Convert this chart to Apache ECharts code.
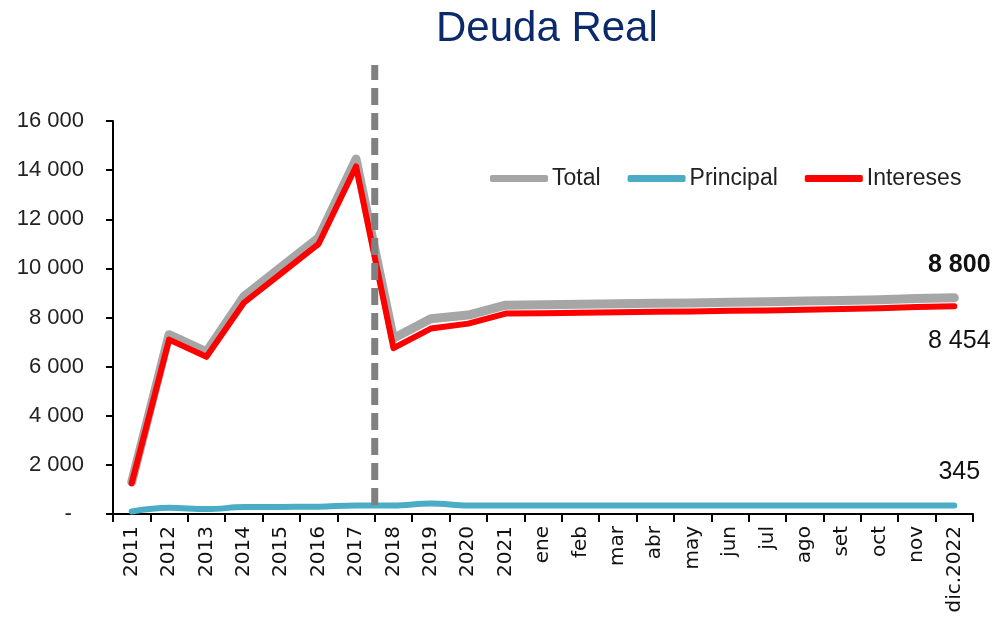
<!DOCTYPE html>
<html>
<head>
<meta charset="utf-8">
<script src="https://cdn.jsdelivr.net/npm/echarts@6/dist/echarts.min.js"></script>
<style>
  html, body { margin: 0; padding: 0; background: #fff; }
  #chart { width: 999px; height: 617px; }
</style>
</head>
<body>
<div id="chart"></div>
<script>
// categories: years then months of 2022
var categories = ['2011', '2012', '2013', '2014', '2015', '2016', '2017', '2018', '2019', '2020', '2021',
  'ene', 'feb', 'mar', 'abr', 'may', 'jun', 'jul', 'ago', 'set', 'oct', 'nov', 'dic.2022'];

var total     = [1300, 7300, 6600, 8850, 10050, 11250, 14450, 7150, 7950, 8100, 8500,
  8520, 8540, 8560, 8580, 8590, 8620, 8640, 8670, 8690, 8720, 8770, 8800];
var principal = [100, 250, 200, 280, 290, 300, 350, 350, 430, 350, 345,
  345, 345, 345, 345, 345, 345, 345, 345, 345, 345, 345, 345];
var intereses = [1250, 7100, 6400, 8600, 9800, 11000, 14150, 6750, 7550, 7750, 8160,
  8175, 8190, 8210, 8230, 8245, 8270, 8290, 8320, 8345, 8375, 8425, 8454];

// vertical break between 2017 and 2018 (boundary index on a 0..23 scale)
var breakLine = [[7, 370], [7, 18280]];

var yTicks = { min: 0, max: 16000, interval: 2000 };

var FONT = 'Liberation Sans';

function fmtThousands(v) {
  if (v === 0) return '-  ';
  return String(v).replace(/\B(?=(\d{3})+(?!\d))/g, ' ');
}

// only the last point gets a visible label
function endLabel(series, pos, bold, dist) {
  var last = series.length - 1;
  return series.map(function (v, i) {
    if (i !== last) return v;
    return {
      value: v,
      label: {
        show: true, position: pos, distance: dist, offset: [5, 0],
        fontFamily: FONT, fontSize: 25, color: '#111',
        fontWeight: bold ? 'bold' : 'normal',
        formatter: function (p) { return fmtThousands(p.value); }
      }
    };
  });
}

var chart = echarts.init(document.getElementById('chart'));

var option = {
  animation: false,
  backgroundColor: '#fff',
  title: {
    text: 'Deuda Real',
    left: 431, top: 3,
    textStyle: { fontFamily: FONT, fontSize: 42, fontWeight: 'normal', color: '#0B2A6B' }
  },
  legend: {
    left: 485, top: 162,
    icon: 'roundRect',
    itemWidth: 58, itemHeight: 7, itemGap: 27,
    data: ['Total', 'Principal', 'Intereses'],
    textStyle: { fontFamily: FONT, fontSize: 23, color: '#222', padding: [0, 0, 0, -1] }
  },
  grid: { left: 113, right: 26, top: 121, bottom: 103 },
  xAxis: [{
    type: 'category',
    data: categories,
    boundaryGap: true,
    axisLine: { lineStyle: { color: '#000', width: 2 } },
    axisTick: { show: true, length: 8, interval: 0, lineStyle: { color: '#000', width: 2 } },
    axisLabel: { interval: 0, rotate: 90, margin: 12, fontFamily: 'DejaVu Sans', fontSize: 20, color: '#111' },
    splitLine: { show: false }
  }, {
    type: 'value', min: 0, max: 23, show: false
  }],
  yAxis: {
    type: 'value',
    min: yTicks.min, max: yTicks.max, interval: yTicks.interval,
    axisLine: { show: true, lineStyle: { color: '#000', width: 2 } },
    axisTick: { show: true, length: 7, lineStyle: { color: '#000', width: 2 } },
    axisLabel: { margin: 29, fontFamily: FONT, fontSize: 22, color: '#222', formatter: fmtThousands },
    splitLine: { show: false }
  },
  series: [
    {
      name: 'Total', type: 'line', data: endLabel(total, 'top', true, 20),
      symbol: 'circle', symbolSize: 0, showSymbol: true, color: '#A6A6A6',
      lineStyle: { width: 9, color: '#A6A6A6', cap: 'round', join: 'round' }, z: 2
    },
    {
      name: 'Principal', type: 'line', data: endLabel(principal, 'top', false, 21),
      symbol: 'circle', symbolSize: 0, showSymbol: true, smooth: 0.4, color: '#4BACC6',
      lineStyle: { width: 6, color: '#4BACC6', cap: 'round', join: 'round' }, z: 3
    },
    {
      name: 'Intereses', type: 'line', data: endLabel(intereses, 'bottom', false, 22),
      symbol: 'circle', symbolSize: 0, showSymbol: true, color: '#FF0000',
      lineStyle: { width: 6, color: '#FF0000', cap: 'round', join: 'round' }, z: 4
    },
    {
      name: 'corte', type: 'line', xAxisIndex: 1, data: breakLine,
      symbol: 'none', clip: false, silent: true,
      lineStyle: { width: 7, color: '#808080', type: [17, 8] }, z: 5
    }
  ]
};

chart.setOption(option);
</script>
</body>
</html>
